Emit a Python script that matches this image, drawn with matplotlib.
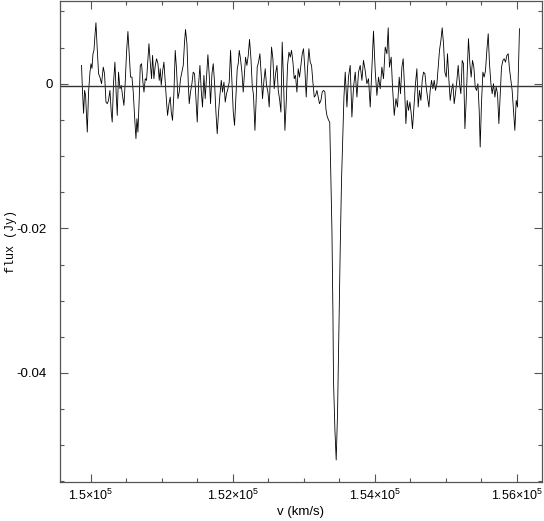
import numpy as np
import matplotlib
matplotlib.use("Agg")
import matplotlib.pyplot as plt
from matplotlib.ticker import MultipleLocator, FixedLocator, FixedFormatter
from matplotlib.transforms import ScaledTranslation

plt.rcParams['font.family'] = ['Liberation Sans', 'DejaVu Sans']
plt.rcParams['mathtext.fontset'] = 'custom'
plt.rcParams['mathtext.rm'] = 'Liberation Sans'
plt.rcParams['axes.unicode_minus'] = False

###################################################
# spectrum: velocity (km/s), flux (mJy)
vel = [149873, 149887, 149902, 149916, 149930, 149954, 149972, 149992, 150006, 150020,
       150034, 150048, 150062, 150076, 150094, 150113, 150132, 150155, 150179, 150197,
       150217, 150235, 150253, 150273, 150291, 150305, 150324, 150343, 150362, 150376,
       150394, 150414, 150432, 150450, 150470, 150488, 150507, 150526, 150545, 150563,
       150583, 150601, 150619, 150639, 150653, 150667, 150685, 150700, 150718, 150737,
       150752, 150770, 150788, 150808, 150822, 150840, 150859, 150873, 150892, 150911,
       150929, 150949, 150967,
       150981, 150995, 151013, 151033, 151051, 151070, 151084, 151104, 151122, 151136,
       151154, 151174, 151192, 151210, 151230, 151248, 151267, 151286, 151305, 151323,
       151337, 151357, 151375, 151389, 151407, 151427, 151445, 151464, 151483, 151502,
       151520, 151540, 151558, 151576, 151596, 151614, 151633, 151652, 151671, 151689,
       151709, 151727, 151745, 151765, 151783, 151802, 151821, 151840, 151858, 151878,
       151896, 151914, 151934, 151952, 151971, 151990, 152009, 152027, 152047, 152065,
       152079, 152093, 152111, 152131,
       152149, 152168, 152182, 152201, 152220, 152238, 152258, 152276, 152294, 152314,
       152332, 152346, 152365, 152384, 152403, 152421, 152441, 152459, 152477, 152497,
       152515, 152534, 152548, 152567, 152586, 152604, 152624, 152642, 152660, 152680,
       152698, 152717, 152736, 152755, 152773, 152793, 152811, 152829, 152849, 152867,
       152885, 152905, 152923, 152942, 152961, 152980, 152998, 153018, 153036, 153054,
       153074, 153092, 153111, 153130, 153149, 153167, 153187, 153205, 153223, 153243,
       153261, 153280, 153299, 153313, 153327, 153346, 153367,
       153384, 153398, 153412, 153420, 153440, 153458, 153477, 153496, 153515, 153533,
       153553, 153567,
       153585, 153609, 153631, 153655, 153679, 153702, 153726, 153750, 153772, 153796,
       153820, 153842, 153866, 153890, 153913, 153937, 153961, 153983, 154007, 154031,
       154054, 154078, 154101, 154124, 154148, 154172, 154190, 154208, 154232, 154251,
       154275, 154299, 154321, 154345, 154363, 154383, 154401, 154420, 154439, 154458,
       154476, 154496, 154514, 154532, 154552, 154574, 154594, 154612, 154631, 154650,
       154669, 154687, 154707, 154725, 154743, 154763, 154781, 154800, 154819, 154838,
       154856, 154876, 154894, 154912, 154932, 154950, 154969, 154988, 155007, 155025,
       155045, 155063, 155081, 155101, 155119, 155137, 155157, 155175, 155194, 155213,
       155232, 155250, 155270, 155288, 155306, 155320, 155340, 155358, 155377, 155396,
       155415, 155433, 155453, 155471, 155485, 155503, 155523, 155541, 155560, 155579,
       155598, 155616, 155636, 155654, 155672, 155692, 155710, 155729, 155748, 155767,
       155785, 155805, 155823, 155841, 155861, 155879, 155897, 155917, 155935, 155954,
       155973, 155992, 156010, 156024, 156038]

flux_mjy = [2.53, -1.16, -4.10, -0.93, -1.62, -6.69, -1.16, 1.60, 2.76, 2.11,
            4.14, 4.60, 6.67, 8.43, 4.83, 1.38, 0.91, 0.00, 2.29, 1.38,
            -2.54, -2.76, -2.31, -0.93, -3.92, -5.30, 0.22, 2.98, -1.62, -4.38,
            1.60, -0.69, -0.23, -1.62, -3.00, 0.22, 4.36, 7.22, 3.91, 0.91,
            0.91, -1.16, -4.38, -7.60, -4.83, -6.69, -2.07, 2.53, 2.76, 0.22,
            -1.16, 0.69, 0.46, 3.45, 5.52, 2.98, 0.69, 3.91, 0.69, 2.53,
            3.45, 2.76, 0.46,
            2.07, -0.23, 1.60, 2.98, 0.22, -2.54, -4.38, -2.76, -1.85, -3.92,
            -5.07, -1.16, 4.60, 2.07, -2.07, -1.16, 0.69, 1.60, 2.53, 5.75,
            7.50, 5.52, 0.22, -2.76, -1.16, 0.00, 1.60, 1.38, -2.07, -5.30,
            -0.23, 2.53, -0.93, -3.23, 1.15, -2.07, 0.91, 4.01, 1.15, -2.76,
            1.38, 2.76, 0.22, -3.92, -6.91, -3.92, -1.62, 0.46, -1.16, 0.22,
            -2.54, -1.38, -0.69, 0.22, 4.60, 0.22, -3.92, -5.76, -1.62, 2.07,
            2.76, 4.60, 3.45, 1.60,
            -1.16, 1.60, 3.67, 2.53, 3.91, 6.12, 3.45, -0.23, -1.62, -6.45,
            -2.07, 2.29, 2.98, 4.14, 1.15, -2.07, 0.46, 2.07, -0.23, -1.16,
            -3.23, 1.60, 5.06, 3.45, -0.69, 1.38, 2.53, -0.93, -2.07, -3.92,
            5.75, 0.22, -6.45, -2.54, 2.53, 4.36, 3.67, 4.60, 2.98, 0.69,
            1.15, -1.16, 2.07, 0.91, 2.53, 4.14, 4.83, 1.84, -1.85, 2.07,
            4.83, 2.98, 2.53, 0.22, -1.85, -1.62, -0.93, -1.85, -2.76, -2.31,
            -1.16, -0.93, -1.16, -3.45, -4.38, -4.93, -5.35,
            -13.36, -20.26, -31.73, -40.98, -47.89, -52.03, -45.54, -34.07, -22.61, -13.36,
            -6.45, -1.89,
            1.60, -3.23, 0.91, 2.53, -4.61, -0.47, 1.60, -1.85, 1.60, 2.53,
            0.46, 3.22, 1.84, 0.00, 0.69, -3.23, 2.29, 7.27, 1.84, -1.62,
            0.91, -0.69, 2.29, 0.69, 5.06, 4.14, 7.73, 2.29, 3.67, -0.47,
            -4.38, -2.07, -3.23, 0.91, -1.38, 2.29, 3.45, -0.47, -5.52, -2.31,
            -3.69, -2.54, -4.14, -6.22, -3.23, 0.00, 2.07, -3.23, -0.93, -2.31,
            0.46, 1.60, 1.38, -0.47, -1.85, -3.23, -0.93, 0.46, -0.69, 0.46,
            -0.93, 0.00, 2.29, 4.60, 5.98, 7.73, 5.52, 1.60, 0.91, 4.14,
            0.46, -2.31, -0.93, 0.00, -2.76, -1.38, 0.46, 2.53, 0.00, -1.38,
            3.22, 2.76, -6.22, -2.31, 2.29, 6.22, 2.76, 0.91, 3.22, 2.29,
            -0.47, -0.93, 0.00, -3.69, -8.76, -2.76, 1.60, 0.91, 1.84, 4.60,
            6.91, 2.76, 0.00, -1.38, 0.00, -1.85, -0.47, -1.38, -5.52, -1.38,
            2.29, 3.22, 3.45, 2.98, 3.91, 4.14, 2.07, 0.46, -0.93, -3.69,
            -6.45, -2.31, -3.23, 2.29, 7.60]

# continuum level drawn across the plot (Jy)
baseline = -0.0003

xticks = [150000, 152000, 154000, 156000]
xticklabels = [r'$\mathregular{1.5{\times}10^5}$', r'$\mathregular{1.52{\times}10^5}$',
               r'$\mathregular{1.54{\times}10^5}$', r'$\mathregular{1.56{\times}10^5}$']
yticks = [-0.04, -0.02, 0.0]
yticklabels = ['-0.04', '-0.02', '0']
###################################################

v = np.array(vel)
f = np.array(flux_mjy) / 1000.

fig = plt.figure(figsize=(5.44, 5.21), dpi=100)
ax = fig.add_axes([0.1103, 0.0749, 0.886, 0.9241])

ax.plot(v, f, color='black', lw=0.6)
ax.axhline(baseline, color='#333333', lw=1.0)

ax.set_xlim(149570, 156355)
ax.set_ylim(-0.05507, 0.01150)

ax.xaxis.set_major_locator(FixedLocator(xticks))
ax.xaxis.set_major_formatter(FixedFormatter(xticklabels))
ax.xaxis.set_minor_locator(MultipleLocator(500))
ax.yaxis.set_major_locator(FixedLocator(yticks))
ax.yaxis.set_major_formatter(FixedFormatter(yticklabels))
ax.yaxis.set_minor_locator(MultipleLocator(0.005))

ax.tick_params(which='both', direction='in', top=True, right=True,
               color='#555555', width=0.8)
ax.tick_params(which='major', length=6)
ax.tick_params(which='minor', length=3)
ax.tick_params(axis='x', pad=4, labelsize=9)
ax.tick_params(axis='y', pad=9.5, labelsize=9.5)
for s in ax.spines.values():
    s.set_color('#555555')
    s.set_linewidth(0.9)

# the "0" label sits closer to the axis in the reference
for lab in ax.get_yticklabels():
    if lab.get_text() == '0':
        lab.set_transform(lab.get_transform() + ScaledTranslation(6/100., 0, fig.dpi_scale_trans))

ax.set_xlabel("v (km/s)", fontsize=9.5, labelpad=2)
ax.set_ylabel("flux (Jy)", fontsize=8.5, family='Liberation Mono', labelpad=0)

fig.savefig("out.png", dpi=100)
